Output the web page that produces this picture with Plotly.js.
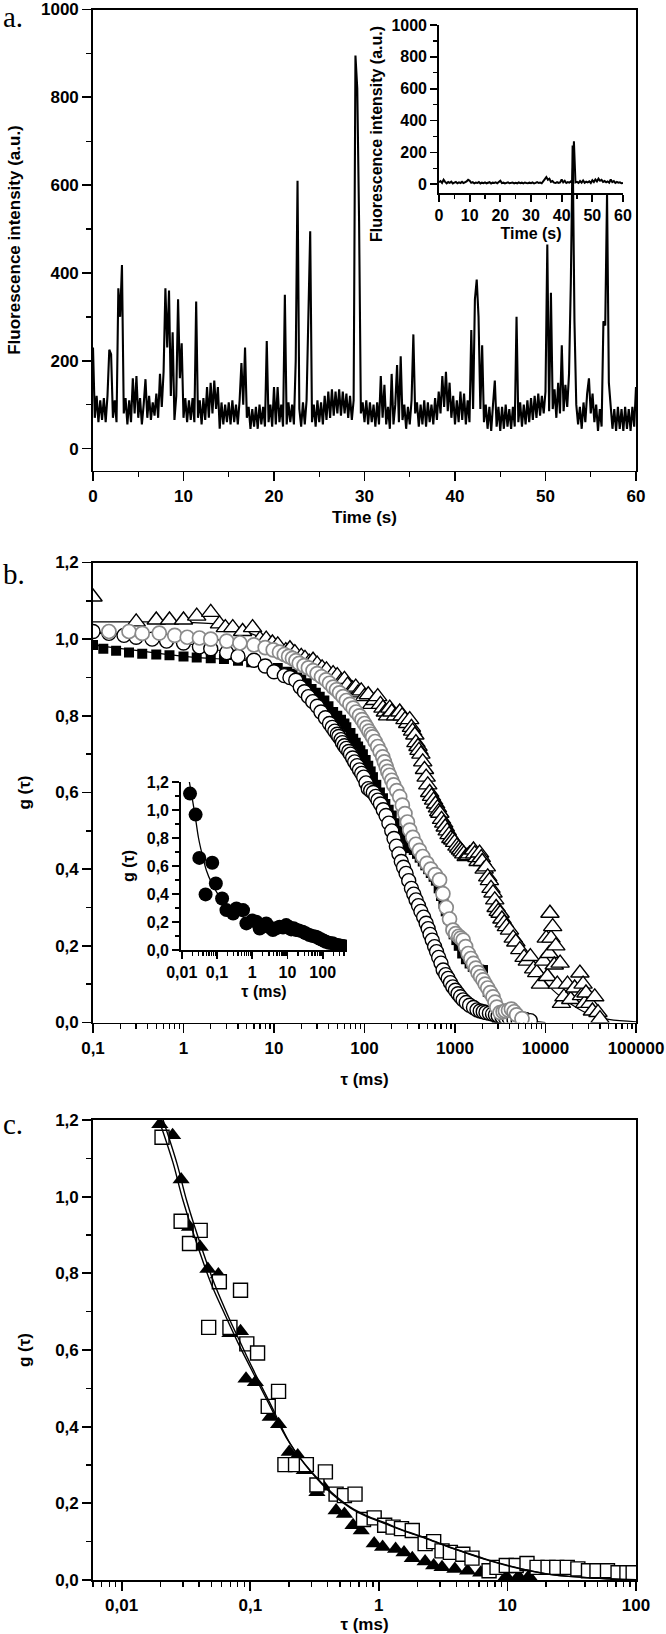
<!DOCTYPE html>
<html>
<head>
<meta charset="utf-8">
<script src="https://cdn.plot.ly/plotly-3.0.1.min.js"></script>
<style>
  html, body { margin: 0; padding: 0; background: #fff; }
  #plot { width: 666px; height: 1634px; }
</style>
</head>
<body>
<div id="plot"></div>
<script>
"use strict";

/* ── (a) fluorescence trace, one value every 0.2 s (0 … 60 s) ── */
const TRACE_DT = 0.2;
const traceIntensity = [
  230, 70, 120, 60, 110,   65, 115, 60, 120, 225,   215, 70, 110, 60, 365,
  300, 418, 80, 115, 55,   110, 60, 160, 80, 165,   70, 115, 55, 100, 158,
  70, 120, 65, 105, 75,    125, 70, 170, 95, 175,   365, 230, 360, 120, 265,
  65, 120, 340, 160, 240,  70, 115, 60, 110, 65,    115, 60, 335, 70, 110,
  55, 115, 65, 140, 70,    150, 80, 155, 90, 140,   45, 105, 55, 100, 60,
  105, 55, 110, 60, 100,   55, 110, 195, 100, 230,  70, 95, 45, 90, 50,
  95, 45, 100, 55, 95,     50, 245, 60, 100, 50,    140, 55, 140, 60, 100,
  50, 350, 55, 105, 60,    100, 55, 200, 610, 90,   50, 105, 55, 110, 290,
  495, 60, 100, 50, 110,   60, 105, 55, 120, 65,    130, 70, 135, 75, 130,
  80, 135, 75, 130, 80,    125, 70, 120, 65, 110,   895, 820, 520, 80, 105,
  60, 110, 55, 105, 60,    100, 50, 105, 55, 165,   70, 145, 55, 95, 45,
  170, 55, 100, 190, 60,   210, 65, 100, 45, 95,    55, 110, 260, 80, 105,
  50, 100, 55, 110, 50,    105, 60, 100, 55, 115,   65, 130, 80, 165, 95,
  175, 85, 150, 70, 120,   55, 110, 60, 130, 65,    125, 55, 110, 60, 270,
  90, 340, 385, 300, 90,   235, 60, 100, 45, 95,    40, 100, 155, 50, 95,
  40, 95, 45, 100, 50,     90, 45, 95, 50, 300,     60, 105, 50, 100, 55,
  110, 60, 115, 65, 120,   70, 125, 75, 120, 80,    130, 465, 85, 355, 90,
  135, 70, 150, 80, 235,   85, 145, 95, 170, 380,   690, 290, 100, 55, 95,
  45, 105, 60, 125, 160,   80, 125, 60, 100, 40,    90, 50, 290, 280, 580,
  150, 95, 45, 90, 40,     95, 45, 90, 40, 95,      45, 90, 40, 95, 50,
  140
];

/* inset of (a): control trace, one value every 0.5 s */
const INSET_DT = 0.5;
const insetIntensity = [
  12, 20, 8, 28, 15, 6, 14, 9, 16, 5,
  10, 14, 6, 12, 8, 15, 7, 11, 18, 28,
  22, 9, 13, 6, 11, 8, 14, 5, 10, 7,
  12, 6, 9, 13, 5, 10, 8, 12, 6, 15,
  22, 7, 10, 5, 9, 12, 6, 8, 11, 5,
  9, 6, 12, 7, 10, 5, 11, 8, 6, 10,
  7, 12, 5, 9, 14, 8, 11, 6, 18, 32,
  45, 28, 35, 15, 20, 10, 8, 14, 9, 12,
  30, 12, 22, 8, 14, 10, 18, 7, 270, 12,
  15, 8, 20, 10, 24, 9, 16, 12, 18, 8,
  25, 14, 30, 18, 35, 22, 28, 15, 20, 12,
  18, 10, 30, 14, 20, 8, 15, 10, 12, 6,
  8
];

/* ── (b) autocorrelation curves, τ in ms ── */
const triTau = [
  0.1, 0.3, 0.5, 0.7, 1.0, 1.4, 2.0, 2.5, 2.9, 3.5,
  4.5, 5.8, 7, 8.2, 9.6, 11, 13.5, 15, 17, 20,
  22, 24.5, 27, 30, 34, 38, 45, 50, 55, 60,
  65, 74, 80, 85, 92, 100, 110, 120, 130, 140,
  150, 160, 170, 180, 190, 200, 220, 245, 260, 280,
  300, 316, 330, 340, 360, 370, 390, 400, 420, 440,
  460, 480, 500, 525, 550, 580, 610, 640, 660, 680,
  710, 750, 780, 820, 860, 900, 945, 990, 1050, 1100,
  1150, 1200, 1250, 1330, 1400, 1450, 1600, 1650, 1750, 1800,
  1870, 1950, 2000, 2100, 2220, 2300, 2400, 2500, 2630, 2750,
  2850, 3000, 3150, 3300, 3500, 3700, 4000, 4400, 4700, 5200,
  5800, 6300, 6800, 7400, 8000, 8800, 9500, 10200, 10500, 11000,
  11200, 11500, 12000, 12500, 13000, 13500, 14500, 15000, 16000, 17500,
  19000, 21000, 24000, 25000, 26000, 27000, 28000, 31000, 33000, 35000,
  38000, 40000];
const triG = [
  1.11, 1.045, 1.05, 1.05, 1.05, 1.06, 1.07, 1.04, 1.03, 1.03,
  1.02, 1.03, 1.0, 1.0, 0.99, 0.985, 0.97, 0.975, 0.965, 0.955,
  0.95, 0.94, 0.945, 0.935, 0.925, 0.92, 0.91, 0.905, 0.89, 0.895,
  0.88, 0.87, 0.875, 0.86, 0.865, 0.85, 0.855, 0.83, 0.84, 0.85,
  0.83, 0.82, 0.81, 0.80, 0.82, 0.81, 0.80, 0.81, 0.80, 0.79,
  0.78, 0.79, 0.77, 0.76, 0.75, 0.73, 0.72, 0.71, 0.70, 0.68,
  0.66, 0.64, 0.62, 0.60, 0.59, 0.58, 0.57, 0.56, 0.55, 0.546,
  0.53, 0.52, 0.51, 0.50, 0.49, 0.48, 0.476, 0.47, 0.46, 0.455,
  0.45, 0.445, 0.44, 0.433, 0.435, 0.44, 0.45, 0.44, 0.43, 0.42,
  0.442, 0.43, 0.42, 0.40, 0.406, 0.38, 0.37, 0.35, 0.338, 0.32,
  0.30, 0.29, 0.285, 0.27, 0.26, 0.25, 0.241, 0.22, 0.21, 0.19,
  0.17, 0.16, 0.172, 0.14, 0.13, 0.10, 0.16, 0.22, 0.12, 0.18,
  0.285, 0.22, 0.25, 0.15, 0.20, 0.10, 0.155, 0.05, 0.067, 0.10,
  0.06, 0.09, 0.129, 0.07, 0.10, 0.05, 0.077, 0.05, 0.03, 0.067,
  0.026, 0.01];

const sqTau = [
  0.1, 0.13, 0.18, 0.25, 0.35, 0.5, 0.7, 1, 1.4, 2,
  2.8, 4, 5.6, 8, 11, 14, 16, 18, 20, 23,
  26, 29, 32, 36, 40, 45, 50, 55, 60, 63,
  70, 75, 80, 85, 90, 96, 103, 110, 117, 124,
  135, 148, 160, 170, 185, 200, 215, 230, 245, 260,
  280, 300, 325, 350, 380, 407, 440, 470, 505, 540,
  580, 615, 660, 700, 745, 790, 845, 900, 965, 1035,
  1100, 1200, 1320, 1450, 1570, 1700, 1850, 2040, 2300, 2600,
  2900];
const sqG = [
  0.985, 0.975, 0.97, 0.965, 0.962, 0.96, 0.958, 0.955, 0.952, 0.95,
  0.948, 0.944, 0.94, 0.933, 0.925, 0.915, 0.91, 0.90, 0.895, 0.885,
  0.87, 0.86, 0.85, 0.84, 0.825, 0.81, 0.80, 0.79, 0.78, 0.77,
  0.755, 0.74, 0.73, 0.72, 0.71, 0.70, 0.685, 0.67, 0.655, 0.64,
  0.62, 0.60, 0.585, 0.57, 0.555, 0.54, 0.52, 0.50, 0.49, 0.48,
  0.47, 0.46, 0.455, 0.45, 0.44, 0.43, 0.42, 0.41, 0.40, 0.39,
  0.38, 0.37, 0.35, 0.33, 0.31, 0.29, 0.27, 0.25, 0.23, 0.215,
  0.20, 0.18, 0.165, 0.154, 0.145, 0.14, 0.138, 0.137, 0.08, 0.03,
  0.01];

const circTau = [
  0.1, 0.15, 0.22, 0.3, 0.45, 0.65, 1, 1.5, 2, 3,
  4, 6, 8, 10, 13, 15, 17.4, 19.5, 21.7, 24,
  26.8, 30, 33, 37, 41, 44, 47, 50, 52, 55,
  57, 60, 63, 67, 70, 74, 78, 83, 88, 93,
  98, 104, 110, 117, 125, 133, 141, 150, 161, 173,
  186, 200, 212, 225, 240, 255, 270, 288, 308, 330,
  350, 371, 395, 420, 450, 480, 505, 530, 560, 595,
  625, 660, 700, 740, 790, 840, 890, 945, 1010, 1080,
  1150, 1230, 1330, 1450, 1600, 1750, 1900, 2050, 2200, 2400,
  2600, 2800, 3000, 3300, 3600, 4000, 4500, 5000, 6000, 6800];
const circG = [
  1.02, 1.015, 1.01, 1.005, 1.0, 0.995, 0.99, 0.98, 0.975, 0.965,
  0.955, 0.945, 0.93, 0.915, 0.905, 0.90, 0.893, 0.875, 0.863, 0.85,
  0.837, 0.825, 0.81, 0.795, 0.78, 0.77, 0.76, 0.752, 0.746, 0.738,
  0.73, 0.722, 0.715, 0.707, 0.70, 0.69, 0.68, 0.67, 0.659, 0.65,
  0.64, 0.625, 0.61, 0.605, 0.60, 0.59, 0.58, 0.57, 0.555, 0.54,
  0.52, 0.50, 0.48, 0.46, 0.44, 0.42, 0.405, 0.389, 0.37, 0.35,
  0.335, 0.32, 0.305, 0.29, 0.275, 0.259, 0.245, 0.23, 0.215, 0.198,
  0.185, 0.17, 0.155, 0.137, 0.125, 0.115, 0.104, 0.093, 0.084, 0.075,
  0.067, 0.059, 0.052, 0.045, 0.039, 0.033, 0.03, 0.028, 0.026, 0.024,
  0.022, 0.02, 0.018, 0.015, 0.013, 0.01, 0.007, 0.005, 0.008, 0.005];

const grayTau = [
  0.15, 0.25, 0.35, 0.54, 0.8, 1.1, 1.5, 2, 3, 4.2,
  6, 8, 9.8, 11.5, 13, 14.5, 16, 17.5, 19, 21.5,
  24, 27, 30, 33.5, 37.6, 41, 45, 49, 53, 58,
  63, 69, 75, 81, 88, 94, 100, 106, 112, 118,
  123, 131, 140, 149, 159, 166, 174, 181, 189, 200,
  210, 227, 245, 262, 280, 298, 316, 342, 370, 405,
  440, 490, 540, 605, 675, 735, 800, 870, 950, 1020,
  1100, 1160, 1230, 1310, 1400, 1500, 1600, 1700, 1800, 1920,
  2040, 2160, 2300, 2460, 2630, 2770, 2900, 3150, 3400, 3600,
  3900, 4200, 4500, 4800, 5500];
const grayG = [
  1.02, 1.02, 1.015, 1.016, 1.01, 1.005, 1.003, 1.0, 0.995, 0.99,
  0.985, 0.978, 0.972, 0.966, 0.96, 0.955, 0.95, 0.944, 0.937, 0.931,
  0.925, 0.918, 0.91, 0.902, 0.894, 0.885, 0.875, 0.868, 0.86, 0.85,
  0.84, 0.83, 0.82, 0.81, 0.80, 0.79, 0.78, 0.77, 0.76, 0.752,
  0.745, 0.733, 0.72, 0.707, 0.693, 0.68, 0.667, 0.655, 0.645, 0.632,
  0.62, 0.605, 0.589, 0.567, 0.545, 0.523, 0.502, 0.483, 0.465, 0.449,
  0.433, 0.415, 0.40, 0.386, 0.372, 0.336, 0.30, 0.27, 0.241, 0.232,
  0.225, 0.22, 0.215, 0.198, 0.18, 0.167, 0.154, 0.142, 0.13, 0.12,
  0.111, 0.10, 0.09, 0.078, 0.067, 0.053, 0.04, 0.026, 0.028, 0.03,
  0.032, 0.035, 0.028, 0.02, 0.01];

/* fitted curves of (b) */
const fitTriTau = [0.1, 0.3, 1, 3, 10, 20, 40, 70, 100, 200, 300, 400, 600, 800, 1000, 1500, 2000,
  3000, 4000, 6000, 8000, 12000, 20000, 30000, 50000, 100000];
const fitTriG = [1.045, 1.045, 1.044, 1.035, 0.99, 0.955, 0.915, 0.875, 0.85, 0.805, 0.77, 0.71,
  0.575, 0.505, 0.47, 0.44, 0.415, 0.30, 0.245, 0.18, 0.135, 0.085, 0.045, 0.022, 0.008, 0.002];
const fitGrayTau = [0.1, 1, 3, 10, 20, 40, 70, 100, 150, 200, 300, 400, 600, 800, 1000, 1500,
  2000, 3000, 5000, 10000];
const fitGrayG = [1.015, 1.008, 0.995, 0.97, 0.935, 0.89, 0.825, 0.78, 0.705, 0.635, 0.53, 0.46,
  0.39, 0.32, 0.245, 0.185, 0.115, 0.03, 0.01, 0.0];
const fitCircTau = [0.1, 1, 3, 10, 20, 40, 70, 100, 150, 200, 300, 400, 600, 800, 1000, 1500,
  2000, 3000, 5000];
const fitCircG = [1.02, 0.99, 0.965, 0.915, 0.865, 0.79, 0.70, 0.645, 0.57, 0.50, 0.365, 0.29,
  0.20, 0.13, 0.09, 0.045, 0.03, 0.018, 0.0];
const fitSqTau = [0.1, 1, 10, 30, 60, 100, 150, 200, 300, 400, 600, 800, 1000, 1500, 2000, 2500,
  3000, 5000];
const fitSqG = [0.985, 0.955, 0.93, 0.86, 0.775, 0.695, 0.60, 0.54, 0.46, 0.43, 0.375, 0.29, 0.22,
  0.155, 0.135, 0.06, 0.02, 0.0];

/* inset of (b) */
const insTau = [0.0172, 0.0248, 0.0316, 0.0476, 0.0735, 0.093, 0.14, 0.186, 0.288, 0.357,
  0.55, 0.684, 1.0, 1.31, 1.63, 2.0, 2.51, 3.2, 3.87, 4.8,
  5.97, 7.5, 9.2, 11, 12.8, 15, 17.7, 21, 27, 33,
  42, 52, 65, 76, 89, 105, 123, 150, 190, 225,
  263, 310, 363, 410, 457];
const insG = [1.117, 0.967, 0.658, 0.397, 0.623, 0.475, 0.368, 0.285, 0.261, 0.297,
  0.285, 0.19, 0.21, 0.202, 0.154, 0.17, 0.19, 0.16, 0.143, 0.155,
  0.166, 0.16, 0.178, 0.165, 0.147, 0.155, 0.143, 0.14, 0.131, 0.12,
  0.107, 0.1, 0.095, 0.085, 0.076, 0.068, 0.059, 0.052, 0.048, 0.04,
  0.036, 0.032, 0.029, 0.026, 0.024];
const insFitTau = [0.0165, 0.02, 0.025, 0.03, 0.04, 0.05, 0.07, 0.1, 0.15, 0.2, 0.3, 0.5, 1, 3, 10,
  30, 100, 200, 450];
const insFitG = [1.2, 1.08, 0.93, 0.80, 0.66, 0.57, 0.48, 0.41, 0.35, 0.31, 0.27, 0.24, 0.21,
  0.185, 0.16, 0.13, 0.08, 0.05, 0.02];

/* ── (c) ── */
const cTriTau = [0.0141, 0.0198, 0.0249, 0.029, 0.0337, 0.0408, 0.0468, 0.0565, 0.0695, 0.084,
  0.0927, 0.1096, 0.143, 0.166, 0.201, 0.234, 0.263, 0.33, 0.37, 0.465, 0.54, 0.63, 0.73, 0.92,
  1.07, 1.35, 1.57, 1.82, 2.29, 2.67, 3.1, 3.9, 4.9, 6.2, 9.8, 12.2, 14.7];
const cTriG = [1.212, 1.189, 1.16, 1.045, 0.921, 0.869, 0.811, 0.797, 0.644, 0.649,
  0.525, 0.516, 0.425, 0.406, 0.334, 0.325, 0.286, 0.229, 0.243, 0.181, 0.172, 0.143, 0.129, 0.095,
  0.086, 0.081, 0.072, 0.057, 0.048, 0.038, 0.033, 0.029, 0.024, 0.019, 0.01, 0.01, 0.01];
const cSqTau = [0.0206, 0.029, 0.0337, 0.0408, 0.0475, 0.0575, 0.0695, 0.084, 0.094, 0.114,
  0.138, 0.166, 0.186, 0.225, 0.273, 0.33, 0.384, 0.465, 0.54, 0.653, 0.76, 0.92, 1.11, 1.29,
  1.5, 1.82, 2.29, 2.67, 3.1, 3.6, 4.5, 5.3, 7.2, 8.3, 9.8, 11.7, 14.2, 17, 20.7, 24.2, 29.2,
  35.3, 42.7, 49.7, 60, 72.5, 85, 95];
const cSqG = [1.155, 0.936, 0.878, 0.912, 0.659, 0.778, 0.659, 0.756, 0.616, 0.592,
  0.453, 0.492, 0.301, 0.301, 0.301, 0.248, 0.282, 0.224, 0.22, 0.224, 0.158, 0.162, 0.143, 0.138,
  0.134, 0.129, 0.095, 0.1, 0.076, 0.072, 0.067, 0.057, 0.024, 0.033, 0.038, 0.038, 0.043, 0.033,
  0.033, 0.033, 0.033, 0.029, 0.024, 0.024, 0.024, 0.019, 0.019, 0.019];
const cFit1Tau = [0.0195, 0.025, 0.03, 0.04, 0.05, 0.064, 0.08, 0.1, 0.137, 0.2, 0.294, 0.43, 0.6,
  0.8, 1.1, 1.6, 2.3, 3.3, 4.9, 7, 10.4, 15, 22, 47, 100];
const cFit1G = [1.2, 1.09, 0.99, 0.86, 0.77, 0.69, 0.62, 0.555, 0.465, 0.36, 0.285, 0.228, 0.19,
  0.168, 0.15, 0.128, 0.11, 0.09, 0.07, 0.053, 0.037, 0.024, 0.014, 0.005, 0.001];
const cFit2Tau = [0.021, 0.027, 0.032, 0.043, 0.053, 0.068, 0.085, 0.105, 0.143, 0.205, 0.3, 0.43,
  0.6, 0.8, 1.1, 1.6, 2.3, 3.3, 4.9, 7, 10.4, 15, 22, 47, 100];
const cFit2G = [1.2, 1.085, 0.99, 0.855, 0.77, 0.685, 0.615, 0.55, 0.46, 0.355, 0.28, 0.225, 0.188,
  0.166, 0.148, 0.127, 0.109, 0.089, 0.069, 0.052, 0.036, 0.024, 0.014, 0.005, 0.001];

/* tick labels (decimal comma, as in the original) */
const gTickVals = [0, 0.2, 0.4, 0.6, 0.8, 1.0, 1.2];
const gTickText = ["0,0", "0,2", "0,4", "0,6", "0,8", "1,0", "1,2"];
const bTickVals = [0.1, 1, 10, 100, 1000, 10000, 100000];
const bTickText = ["0,1", "1", "10", "100", "1000", "10000", "100000"];
const smallTickVals = [0.01, 0.1, 1, 10, 100];
const smallTickText = ["0,01", "0,1", "1", "10", "100"];

/* ── helpers ── */
function logMinors(lo, hi) {
  const out = [];
  for (let e = -3; e <= 5; e++) {
    for (let m = 2; m <= 9; m++) {
      const v = m * Math.pow(10, e);
      if (v > lo && v < hi) out.push(v);
    }
  }
  return out;
}

const W = 666, H = 1634;
const px = v => v / W;            // left-based pixel → paper x
const py = v => 1 - v / H;        // top-based pixel → paper y

const SANS = "Liberation Sans, Arial, sans-serif";
const TICK_FONT = { family: SANS, size: 17, color: "#000", weight: "bold" };
const TITLE_FONT = { family: SANS, size: 17, color: "#000", weight: "bold" };
const SMALL_TICK_FONT = { family: SANS, size: 16, color: "#000", weight: "bold" };
const INSET_TITLE_FONT = { family: SANS, size: 16, color: "#000", weight: "bold" };
const LETTER_FONT = { family: "Liberation Serif, Times New Roman, serif", size: 29, color: "#000" };

function axis(extra) {
  return Object.assign({
    showline: true, linecolor: "#000", linewidth: 1.8,
    ticks: "outside", ticklen: 9, tickwidth: 1.7, tickcolor: "#000",
    showgrid: false, zeroline: false, fixedrange: true,
    tickfont: TICK_FONT, automargin: false,
  }, extra);
}
function minor(extra) {
  return Object.assign({ ticks: "outside", ticklen: 5, tickwidth: 1.4, tickcolor: "#000", showgrid: false }, extra);
}

/* ── traces ── */
const traces = [];

traces.push({
  type: "scatter", mode: "lines",
  x: traceIntensity.map((_, i) => +(i * TRACE_DT).toFixed(1)), y: traceIntensity,
  line: { color: "#000", width: 2.1 }, xaxis: "x", yaxis: "y", hoverinfo: "skip",
});
traces.push({
  type: "scatter", mode: "lines",
  x: insetIntensity.map((_, i) => i * INSET_DT), y: insetIntensity,
  line: { color: "#000", width: 2 }, xaxis: "x2", yaxis: "y2", hoverinfo: "skip",
});

// (b) fits under the markers
[[fitTriTau, fitTriG], [fitGrayTau, fitGrayG], [fitCircTau, fitCircG], [fitSqTau, fitSqG]].forEach(([t, g]) => {
  traces.push({ type: "scatter", mode: "lines", x: t, y: g, line: { color: "#000", width: 1.2, shape: "spline" },
    xaxis: "x3", yaxis: "y3", hoverinfo: "skip" });
});
traces.push({ type: "scatter", mode: "markers", x: triTau, y: triG, xaxis: "x3", yaxis: "y3",
  marker: { symbol: "triangle-up", size: 16, color: "#fff", line: { color: "#000", width: 1.4 } } });
traces.push({ type: "scatter", mode: "markers", x: sqTau, y: sqG, xaxis: "x3", yaxis: "y3",
  marker: { symbol: "square", size: 10, color: "#000", line: { width: 0 } } });
traces.push({ type: "scatter", mode: "markers", x: circTau, y: circG, xaxis: "x3", yaxis: "y3",
  marker: { symbol: "circle", size: 14, color: "#fff", line: { color: "#000", width: 1.4 } } });
traces.push({ type: "scatter", mode: "markers", x: grayTau, y: grayG, xaxis: "x3", yaxis: "y3",
  marker: { symbol: "circle", size: 14, color: "#fff", line: { color: "#8a8a8a", width: 1.7 } } });

// (b) inset
traces.push({ type: "scatter", mode: "lines", x: insFitTau, y: insFitG, xaxis: "x4", yaxis: "y4",
  line: { color: "#000", width: 1.3, shape: "spline" }, hoverinfo: "skip" });
traces.push({ type: "scatter", mode: "markers", x: insTau, y: insG, xaxis: "x4", yaxis: "y4",
  marker: { symbol: "circle", size: 14, color: "#000" } });

// (c)
traces.push({ type: "scatter", mode: "markers", x: cTriTau, y: cTriG, xaxis: "x5", yaxis: "y5",
  marker: { symbol: "triangle-up", size: 15, color: "#000" } });
traces.push({ type: "scatter", mode: "markers", x: cSqTau, y: cSqG, xaxis: "x5", yaxis: "y5",
  marker: { symbol: "square", size: 14, color: "#fff", line: { color: "#000", width: 1.4 } } });
[[cFit1Tau, cFit1G], [cFit2Tau, cFit2G]].forEach(([t, g]) => {
  traces.push({ type: "scatter", mode: "lines", x: t, y: g, xaxis: "x5", yaxis: "y5",
    line: { color: "#000", width: 1.4, shape: "spline" }, hoverinfo: "skip" });
});

/* ── layout ── */
const XD = [px(93), px(636)];

const layout = {
  width: W, height: H,
  margin: { l: 0, r: 0, t: 0, b: 0 },
  paper_bgcolor: "#fff", plot_bgcolor: "rgba(0,0,0,0)",
  showlegend: false,
  font: { family: SANS, color: "#000" },

  // (a)
  xaxis: axis({ domain: XD, anchor: "y", range: [0, 60], tick0: 0, dtick: 10, mirror: true,
    minor: minor({ dtick: 5 }),
    title: { text: "Time (s)", font: TITLE_FONT, standoff: 6 } }),
  yaxis: axis({ domain: [py(470.5), py(9.5)], anchor: "x", range: [-50, 1000], tick0: 0, dtick: 200, mirror: true,
    minor: minor({ dtick: 100 }),
    title: { text: "Fluorescence intensity (a.u.)", font: TITLE_FONT, standoff: 16 } }),
  xaxis2: axis({ domain: [px(439), px(623)], anchor: "y2", range: [0, 60], tick0: 0, dtick: 10, ticklen: 7,
    tickfont: SMALL_TICK_FONT, minor: minor({ dtick: 5, ticklen: 4 }),
    title: { text: "Time (s)", font: INSET_TITLE_FONT, standoff: 5 } }),
  yaxis2: axis({ domain: [py(192.7), py(25)], anchor: "x2", range: [-53, 1000], tick0: 0, dtick: 200, ticklen: 7,
    tickfont: SMALL_TICK_FONT, minor: minor({ dtick: 100, ticklen: 4 }) }),

  // (b)
  xaxis3: axis({ domain: XD, anchor: "y3", type: "log", range: [-1, 5], mirror: true,
    tickvals: bTickVals, ticktext: bTickText,
    minor: minor({ tickvals: logMinors(0.1, 100000) }),
    title: { text: "τ (ms)", font: TITLE_FONT, standoff: 16 } }),
  yaxis3: axis({ domain: [py(1022.5), py(562.5)], anchor: "x3", range: [0, 1.2], mirror: true,
    tickvals: gTickVals, ticktext: gTickText,
    minor: minor({ dtick: 0.1, tick0: 0 }),
    title: { text: "g (τ)", font: TITLE_FONT, standoff: 20 } }),
  xaxis4: axis({ domain: [px(181), px(347)], anchor: "y4", type: "log", range: [-2.02, 2.69], ticklen: 7,
    tickvals: smallTickVals, ticktext: smallTickText, tickfont: SMALL_TICK_FONT,
    minor: minor({ tickvals: logMinors(0.009, 500), ticklen: 4 }),
    title: { text: "τ (ms)", font: INSET_TITLE_FONT, standoff: 6 } }),
  yaxis4: axis({ domain: [py(950), py(782)], anchor: "x4", range: [0, 1.2], ticklen: 7,
    tickvals: gTickVals, ticktext: gTickText, tickfont: SMALL_TICK_FONT,
    minor: minor({ dtick: 0.1, tick0: 0, ticklen: 4 }),
    title: { text: "g (τ)", font: INSET_TITLE_FONT, standoff: 8 } }),

  // (c)
  xaxis5: axis({ domain: XD, anchor: "y5", type: "log", range: [-2.223, 2], mirror: true,
    tickvals: smallTickVals, ticktext: smallTickText,
    minor: minor({ tickvals: logMinors(0.005, 100) }),
    title: { text: "τ (ms)", font: TITLE_FONT, standoff: 4 } }),
  yaxis5: axis({ domain: [py(1580), py(1120)], anchor: "x5", range: [0, 1.2], mirror: true,
    tickvals: gTickVals, ticktext: gTickText,
    minor: minor({ dtick: 0.1, tick0: 0 }),
    title: { text: "g (τ)", font: TITLE_FONT, standoff: 20 } }),

  annotations: [
    { text: "a.", x: px(1), y: py(17), xref: "paper", yref: "paper", xanchor: "left", yanchor: "middle",
      showarrow: false, font: LETTER_FONT },
    { text: "b.", x: px(1), y: py(574), xref: "paper", yref: "paper", xanchor: "left", yanchor: "middle",
      showarrow: false, font: LETTER_FONT },
    { text: "c.", x: px(1), y: py(1124), xref: "paper", yref: "paper", xanchor: "left", yanchor: "middle",
      showarrow: false, font: LETTER_FONT },
    // y title of the inset in (a): longer than the inset itself, so placed by hand
    { text: "Fluorescence intensity (a.u.)", textangle: -90, x: px(377), y: py(134),
      xref: "paper", yref: "paper", xanchor: "center", yanchor: "middle",
      showarrow: false, font: INSET_TITLE_FONT },
  ],
};

Plotly.newPlot("plot", traces, layout, { displayModeBar: false, staticPlot: true });
</script>
</body>
</html>
